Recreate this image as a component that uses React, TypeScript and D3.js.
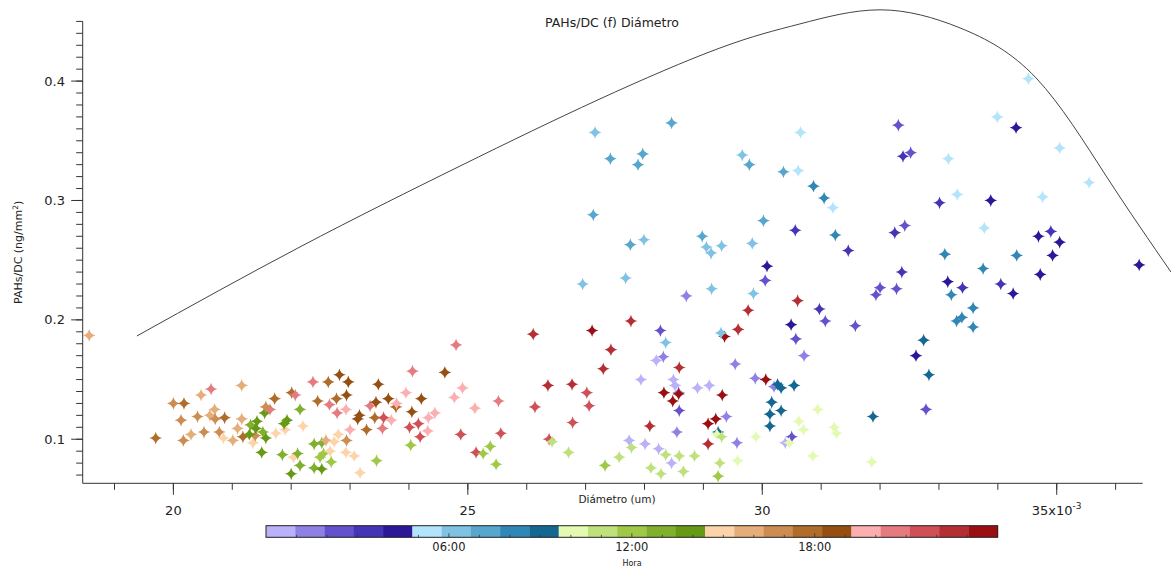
import React from 'react';
import * as d3 from 'd3';

// Diámetro (x10^-3 um)
const diametro = [
  18.57,19.70,20.00,20.18,20.47,20.64,21.16,20.13,20.41,20.17,
  20.30,20.52,20.70,20.62,20.71,20.87,20.78,20.85,21.01,21.16,
  21.09,21.18,21.35,21.39,21.29,21.31,21.42,21.40,21.52,21.57,
  21.55,21.64,21.57,21.72,21.50,21.74,21.90,21.93,21.88,22.01,
  22.07,22.15,22.20,21.85,22.04,22.11,22.15,22.00,22.37,22.63,
  22.82,22.97,22.45,22.65,22.77,22.94,22.78,22.93,22.39,22.52,
  22.55,22.49,22.59,22.66,22.73,22.80,22.94,23.00,22.93,23.07,
  22.68,22.39,22.52,23.17,23.45,23.13,23.16,23.28,23.42,23.34,
  23.44,23.48,23.65,23.78,23.79,23.57,23.70,23.55,23.95,24.06,
  24.61,24.80,24.21,24.05,24.01,24.16,24.19,24.33,24.44,24.32,
  24.03,24.77,24.91,25.12,25.52,24.88,25.14,25.26,25.38,25.48,
  25.56,26.11,26.36,26.14,26.77,27.02,27.06,26.78,26.38,26.43,
  26.71,27.11,27.43,27.30,27.77,27.33,27.57,27.78,27.74,28.01,
  28.24,28.46,28.11,28.28,28.36,28.59,28.66,28.85,28.09,27.94,
  28.20,28.32,28.27,28.36,28.59,28.49,28.52,28.58,28.33,28.58,
  28.48,28.59,28.55,28.90,28.71,29.14,29.85,30.05,29.76,30.60,
  29.59,29.36,29.30,30.97,30.49,31.07,30.57,31.58,30.71,29.54,
  32.74,32.61,32.83,32.78,31.88,29.10,29.32,29.88,30.06,30.20,
  30.26,30.32,30.54,30.16,30.13,30.32,30.13,30.94,30.62,30.70,
  31.22,31.26,30.50,30.39,30.46,30.86,31.86,29.89,29.57,29.58,
  29.39,29.08,29.21,29.08,29.25,29.23,29.31,29.28,29.25,27.16,
  28.46,27.42,27.97,27.89,29.66,29.78,30.65,30.61,30.36,30.87,
  31.05,31.20,27.13,30.02,30.56,31.24,31.46,27.76,27.99,28.98,
  29.05,29.13,29.31,29.83,30.08,26.95,27.68,34.52,33.99,34.31,
  35.05,35.55,34.76,32.31,32.39,32.52,33.16,33.31,33.01,33.88,
  33.77,32.25,32.42,33.10,33.75,34.32,34.69,34.90,35.05,34.93,
  34.72,36.40,32.37,32.00,31.93,32.28,33.15,33.40,33.21,34.05,
  34.26,33.58,33.30,33.39,33.58,
];

// PAHs/DC (ng/mm2)
const pahs = [
  .187,.101,.130,.130,.137,.142,.145,.116,.119,.099,
  .104,.106,.125,.120,.117,.118,.106,.101,.099,.117,
  .109,.102,.097,.103,.104,.112,.115,.109,.106,.101,
  .122,.125,.127,.134,.089,.105,.108,.116,.113,.139,
  .137,.125,.111,.087,.085,.088,.078,.071,.148,.148,
  .154,.148,.132,.129,.134,.137,.122,.125,.096,.097,
  .088,.085,.099,.090,.098,.104,.099,.108,.089,.086,
  .081,.076,.075,.072,.082,.117,.120,.108,.118,.128,
  .131,.146,.134,.127,.130,.118,.116,.109,.139,.157,
  .156,.179,.134,.123,.110,.113,.102,.118,.122,.107,
  .095,.135,.143,.126,.132,.104,.089,.088,.094,.079,
  .105,.188,.145,.127,.146,.139,.128,.114,.100,.098,
  .089,.191,.175,.159,.199,.078,.085,.093,.099,.096,
  .092,.080,.076,.071,.087,.086,.073,.086,.111,.150,
  .166,.169,.191,.181,.160,.150,.145,.139,.139,.138,
  .132,.124,.106,.143,.220,.226,.222,.233,.208,.216,
  .192,.186,.189,.209,.196,.199,.184,.195,.170,.163,
  .183,.170,.154,.125,.119,.145,.137,.151,.150,.144,
  .146,.143,.145,.131,.121,.124,.111,.125,.115,.108,
  .110,.105,.102,.097,.097,.086,.081,.102,.097,.082,
  .119,.113,.117,.096,.106,.104,.102,.080,.069,.357,
  .365,.335,.339,.330,.338,.330,.357,.325,.324,.312,
  .302,.294,.288,.283,.275,.271,.258,.263,.267,.270,
  .261,.256,.262,.264,.245,.230,.235,.402,.370,.361,
  .344,.315,.303,.363,.337,.340,.335,.305,.298,.300,
  .277,.273,.279,.255,.243,.254,.270,.274,.265,.254,
  .238,.246,.240,.227,.221,.226,.232,.227,.221,.230,
  .222,.210,.199,.202,.194,
];

// Hora (decimal hours)
const hora = [
  15.8,17.8,16.8,17.8,15.8,20.6,15.8,16.8,16.8,16.8,
  15.8,16.8,15.8,15.8,16.8,17.8,16.8,14.9,15.8,15.8,
  15.8,17.8,14.9,16.8,13.9,13.0,13.9,13.9,13.0,13.9,
  13.9,20.6,16.8,17.8,13.9,14.9,14.9,13.9,13.9,17.8,
  20.6,13.0,14.9,13.0,14.9,13.0,13.0,13.9,20.6,17.8,
  18.7,18.7,17.8,20.6,17.8,18.7,20.6,19.7,13.0,13.0,
  12.0,12.0,15.8,14.9,14.9,14.9,16.8,19.7,14.9,14.9,
  12.0,13.0,13.9,14.9,12.0,18.7,18.7,17.8,17.8,20.6,
  18.7,18.7,18.7,17.8,19.7,21.6,19.7,20.6,19.7,20.6,
  18.7,20.6,18.7,18.7,21.6,21.6,21.6,19.7,19.7,19.7,
  12.0,19.7,19.7,19.7,20.6,21.6,21.6,12.0,12.0,12.0,
  21.6,22.6,22.6,21.6,22.6,21.6,21.6,21.6,21.6,11.0,
  11.0,23.5,22.6,22.6,22.6,12.0,11.0,11.0,0.5,0.5,
  0.5,0.5,11.0,11.0,11.0,11.0,11.0,11.0,22.6,0.5,
  0.5,1.4,2.4,6.2,22.6,0.5,0.5,1.4,23.5,23.5,
  23.5,2.4,1.4,0.5,1.4,6.2,6.2,2.4,22.6,22.6,
  22.6,23.5,6.2,3.4,4.3,2.4,2.4,2.4,1.4,1.4,
  9.1,4.3,9.1,2.4,9.1,0.5,23.5,1.4,23.5,1.4,
  9.1,9.1,9.1,9.1,9.1,9.1,9.1,10.1,10.1,10.1,
  10.1,10.1,2.4,0.5,10.1,10.1,10.1,10.1,1.4,10.1,
  1.4,23.5,23.5,22.6,9.1,10.1,11.0,11.0,12.0,6.2,
  7.2,7.2,7.2,7.2,6.2,7.2,5.3,5.3,7.2,8.2,
  8.2,5.3,7.2,7.2,3.4,8.2,3.4,7.2,6.2,7.2,
  6.2,6.2,6.2,6.2,4.3,6.2,6.2,5.3,5.3,4.3,
  5.3,5.3,5.3,2.4,3.4,2.4,5.3,5.3,3.4,4.3,
  5.3,3.4,2.4,8.2,8.2,8.2,4.3,3.4,4.3,4.3,
  4.3,4.3,3.4,2.4,2.4,2.4,4.3,3.4,8.2,3.4,
  4.3,8.2,8.2,8.2,8.2,
];

// fitted curve
const curvaDiametro = [19.38, 22.15, 24.87, 27.21, 29.28, 30.64, 32.00, 33.36, 34.65, 35.85, 36.94];
const curvaPahs = [0.1865, 0.2611, 0.3289, 0.3843, 0.4277, 0.4479, 0.4597, 0.4445, 0.4026, 0.3197, 0.2401];

const paleta = [
  '#b9b2f9', '#8f80e6', '#6451cd', '#4434b6', '#2b1899',
  '#b2e4fb', '#7fc2e3', '#56a6cd', '#3086b4', '#136790',
  '#e4fab2', '#bfe17b', '#9fc847', '#80b02e', '#669a14',
  '#fdd4aa', '#e5ad79', '#cd8d52', '#b06c2b', '#954f11',
  '#fcafb1', '#e57b81', '#cf5157', '#b52e33', '#9b0f13',
];

const xMayores = [20, 25, 30, 35];
const xMenores = d3.range(19, 37, 1);
const yMayores = [0.1, 0.2, 0.3, 0.4];
const yMenores = d3.range(0.07, 0.4501, 0.01);
const horaTicks = [6, 12, 18];
const horaEtiquetas = ['06:00', '12:00', '18:00'];

const FONT = '"DejaVu Sans", Verdana, sans-serif';
const AX = '#333';

export default function App() {
  const W = 1171, H = 569;
  const left = 82.7, right = 1142.7, top = 21.4, bottom = 483.3;
  const x = d3.scaleLinear().domain([18.46, 36.46]).range([left, right]);
  const y = d3.scaleLinear().domain([0.0631, 0.45]).range([bottom, top]);
  const color = d3.scaleQuantize<string>().domain([0, 24]).range(paleta);

  const cb = d3.scaleLinear().domain([0, 24]).range([266, 997.7]);
  const cbTop = 525.7, cbH = 11.6;
  const seg = (cb(24) - cb(0)) / paleta.length;

  const linea = d3.line<number>()
    .x((_, i) => x(curvaDiametro[i]))
    .y((_, i) => y(curvaPahs[i]))
    .curve(d3.curveNatural);

  const r = 6.4, c = r * 0.17;
  const estrella = `M0,${-r}Q${c},${-c} ${r},0Q${c},${c} 0,${r}Q${-c},${c} ${-r},0Q${-c},${-c} 0,${-r}Z`;

  return (
    <svg width={W} height={H} style={{ position: 'absolute', left: 0, top: 0, background: '#fff' }} fontFamily={FONT}>
      <rect x={0} y={0} width={W} height={H} fill="#fff" />
      <text x={612} y={27} fontSize={12.5} textAnchor="middle" fill="#222">PAHs/DC (f) Diámetro</text>

      {/* Y axis */}
      <line x1={left} x2={left} y1={top} y2={bottom} stroke={AX} strokeWidth={1} />
      {yMenores.map((v, i) => (
        <line key={'ym' + i} x1={left - 6.5} x2={left} y1={y(v)} y2={y(v)} stroke={AX} />
      ))}
      {yMayores.map((v) => (
        <g key={'yM' + v}>
          <line x1={left - 11.5} x2={left} y1={y(v)} y2={y(v)} stroke={AX} />
          <text x={65} y={y(v) + 4.6} fontSize={13} textAnchor="end" fill="#222">{d3.format('.1f')(v)}</text>
        </g>
      ))}
      <text transform={`translate(22,${(top + bottom) / 2}) rotate(-90)`} fontSize={11} textAnchor="middle" fill="#222">
        PAHs/DC (ng/mm<tspan dy={-4} fontSize={7.5}>2</tspan><tspan dy={4}>)</tspan>
      </text>

      {/* X axis */}
      <line x1={left} x2={right} y1={bottom} y2={bottom} stroke={AX} strokeWidth={1} />
      {xMenores.map((v) => (
        <line key={'xm' + v} x1={x(v)} x2={x(v)} y1={bottom} y2={bottom + 6.5} stroke={AX} />
      ))}
      {xMayores.map((v) => (
        <g key={'xM' + v}>
          <line x1={x(v)} x2={x(v)} y1={bottom} y2={bottom + 11.5} stroke={AX} />
          {v === 35 ? (
            <text x={x(v)} y={515} fontSize={13} textAnchor="middle" fill="#222">
              35x10<tspan dy={-6} fontSize={9}>-3</tspan>
            </text>
          ) : (
            <text x={x(v)} y={515} fontSize={13} textAnchor="middle" fill="#222">{v}</text>
          )}
        </g>
      ))}
      <text x={617} y={503} fontSize={10.5} textAnchor="middle" fill="#222">Diámetro (um)</text>

      {/* curve */}
      <path d={linea(curvaDiametro) || ''} fill="none" stroke="#444" strokeWidth={1} />

      {/* points */}
      {diametro.map((d, i) => (
        <path key={'p' + i} d={estrella} transform={`translate(${x(d)},${y(pahs[i])})`} fill={color(hora[i])} />
      ))}

      {/* color bar */}
      {paleta.map((col, i) => (
        <rect key={'cb' + i} x={cb(0) + i * seg} y={cbTop} width={seg + 0.3} height={cbH} fill={col} />
      ))}
      <rect x={cb(0)} y={cbTop} width={cb(24) - cb(0)} height={cbH} fill="none" stroke="#222" strokeWidth={1} />
      {d3.range(1, 24).map((h) => (
        <line key={'cbt' + h} x1={cb(h)} x2={cb(h)} y1={cbTop + cbH} y2={cbTop + cbH - (h % 6 === 0 ? 4 : 2.5)} stroke="#333" strokeWidth={0.8} />
      ))}
      {horaTicks.map((h, i) => (
        <text key={'ht' + h} x={cb(h)} y={551} fontSize={11.5} textAnchor="middle" fill="#222">{horaEtiquetas[i]}</text>
      ))}
      <text x={632} y={566} fontSize={8} textAnchor="middle" fill="#222">Hora</text>
    </svg>
  );
}
